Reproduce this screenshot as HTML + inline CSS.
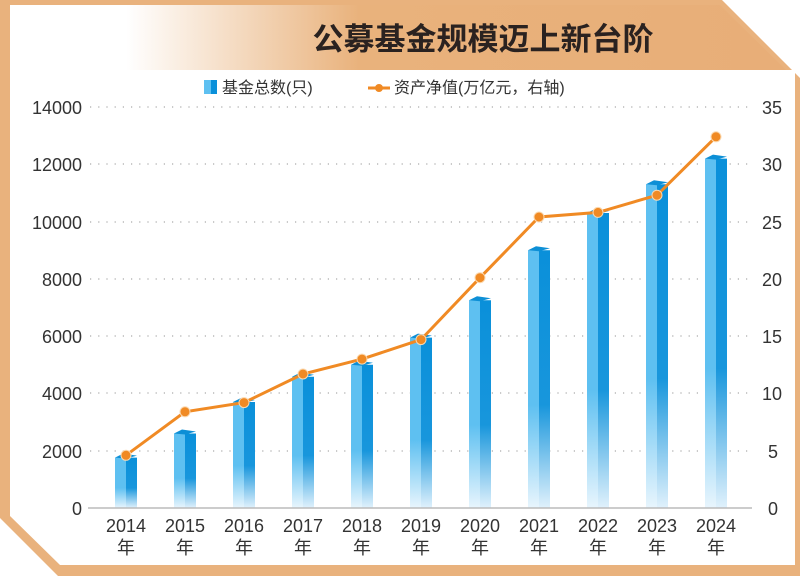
<!DOCTYPE html>
<html><head><meta charset="utf-8"><style>
html,body{margin:0;padding:0;background:#fff}
svg{display:block}
text{font-family:"Liberation Sans","Noto Sans CJK SC",sans-serif}
</style></head><body>
<svg width="800" height="576" viewBox="0 0 800 576" xmlns="http://www.w3.org/2000/svg">
<defs>
<linearGradient id="tg" x1="0" y1="0" x2="1" y2="0">
<stop offset="0" stop-color="#fff"/><stop offset="0.15" stop-color="#fff"/><stop offset="0.45" stop-color="#e9b27c"/><stop offset="1" stop-color="#e8ae78"/>
</linearGradient>
<linearGradient id="gl" x1="0" y1="0" x2="0" y2="1">
<stop offset="0" stop-color="#5ec0f1"/><stop offset="0.6" stop-color="#5ec0f1"/><stop offset="1" stop-color="#e8f5fd"/>
</linearGradient>
<linearGradient id="gd" x1="0" y1="0" x2="0" y2="1">
<stop offset="0" stop-color="#0a90da"/><stop offset="0.6" stop-color="#1896dc"/><stop offset="1" stop-color="#e0f1fc"/>
</linearGradient>
<g id="b"><rect x="-11" y="0" width="11" height="600" fill="url(#gl)"/></g>
</defs>
<polygon points="0,0 722,0 800,78 800,576 0,576" fill="#e9b27d"/>
<polygon points="0,518 0,576 58,576" fill="#fff"/>
<polygon points="10,70 795,70 795,565 60,565 10,516" fill="#fff"/>
<polygon points="10,5 720,5 786,70 10,70" fill="url(#tg)"/>
<text x="483" y="50" font-size="31" font-weight="bold" fill="#2a2220" text-anchor="middle" style="font-family:'Noto Sans CJK SC',sans-serif">公募基金规模迈上新台阶</text>
<rect x="204" y="80" width="7" height="14" fill="#5ec0f1"/><rect x="211" y="80" width="6" height="14" fill="#0a90da"/>
<text x="222" y="93" font-size="16" fill="#333">基金总数(只)</text>
<line x1="368" y1="88" x2="390" y2="88" stroke="#f08a24" stroke-width="3"/><circle cx="379" cy="88" r="4" fill="#f08a24"/>
<text x="394" y="93" font-size="16" fill="#333">资产净值(万亿元，右轴)</text>
<g stroke="#aaa" stroke-width="1.2" stroke-dasharray="1.2 7">
<line x1="90" y1="107" x2="750" y2="107"/><line x1="90" y1="164" x2="750" y2="164"/><line x1="90" y1="222" x2="750" y2="222"/><line x1="90" y1="279" x2="750" y2="279"/><line x1="90" y1="336" x2="750" y2="336"/><line x1="90" y1="393" x2="750" y2="393"/><line x1="90" y1="451" x2="750" y2="451"/>
</g>
<g font-size="18" fill="#333">
<text x="82" y="114" text-anchor="end">14000</text><text x="82" y="171" text-anchor="end">12000</text><text x="82" y="229" text-anchor="end">10000</text><text x="82" y="286" text-anchor="end">8000</text><text x="82" y="343" text-anchor="end">6000</text><text x="82" y="400" text-anchor="end">4000</text><text x="82" y="458" text-anchor="end">2000</text><text x="82" y="515" text-anchor="end">0</text>
<text x="762" y="114">35</text><text x="762" y="171">30</text><text x="762" y="229">25</text><text x="762" y="286">20</text><text x="762" y="343">15</text><text x="762" y="400">10</text><text x="768" y="458">5</text><text x="768" y="515">0</text>
</g>
<g>
<path d="M115,457.6h11v50.4h-11z" fill="url(#gl)"/><path d="M126,457.6h11v50.4h-11z" fill="url(#gd)"/><polygon points="115,457.6 123,453.6 137,455.6 126,458.6" fill="#0d8fd6"/>
<path d="M174,433.5h11v74.5h-11z" fill="url(#gl)"/><path d="M185,433.5h11v74.5h-11z" fill="url(#gd)"/><polygon points="174,433.5 182,429.5 196,431.5 185,434.5" fill="#0d8fd6"/>
<path d="M233,402h11v106h-11z" fill="url(#gl)"/><path d="M244,402h11v106h-11z" fill="url(#gd)"/><polygon points="233,402 241,398 255,400 244,403" fill="#0d8fd6"/>
<path d="M292,376.8h11v131.2h-11z" fill="url(#gl)"/><path d="M303,376.8h11v131.2h-11z" fill="url(#gd)"/><polygon points="292,376.8 300,372.8 314,374.8 303,377.8" fill="#0d8fd6"/>
<path d="M351,364.8h11v143.2h-11z" fill="url(#gl)"/><path d="M362,364.8h11v143.2h-11z" fill="url(#gd)"/><polygon points="351,364.8 359,360.8 373,362.8 362,365.8" fill="#0d8fd6"/>
<path d="M410,337.6h11v170.4h-11z" fill="url(#gl)"/><path d="M421,337.6h11v170.4h-11z" fill="url(#gd)"/><polygon points="410,337.6 418,333.6 432,335.6 421,338.6" fill="#0d8fd6"/>
<path d="M469,300.3h11v207.7h-11z" fill="url(#gl)"/><path d="M480,300.3h11v207.7h-11z" fill="url(#gd)"/><polygon points="469,300.3 477,296.3 491,298.3 480,301.3" fill="#0d8fd6"/>
<path d="M528,250.2h11v257.8h-11z" fill="url(#gl)"/><path d="M539,250.2h11v257.8h-11z" fill="url(#gd)"/><polygon points="528,250.2 536,246.2 550,248.2 539,251.2" fill="#0d8fd6"/>
<path d="M587,213h11v295h-11z" fill="url(#gl)"/><path d="M598,213h11v295h-11z" fill="url(#gd)"/><polygon points="587,213 595,209 609,211 598,214" fill="#0d8fd6"/>
<path d="M646,184.3h11v323.7h-11z" fill="url(#gl)"/><path d="M657,184.3h11v323.7h-11z" fill="url(#gd)"/><polygon points="646,184.3 654,180.3 668,182.3 657,185.3" fill="#0d8fd6"/>
<path d="M705,158.6h11v349.4h-11z" fill="url(#gl)"/><path d="M716,158.6h11v349.4h-11z" fill="url(#gd)"/><polygon points="705,158.6 713,154.6 727,156.6 716,159.6" fill="#0d8fd6"/>
</g>
<line x1="88" y1="508" x2="752" y2="508" stroke="#bbb" stroke-width="1.5"/>
<g font-size="18" fill="#333" text-anchor="middle">
<text x="126" y="532">2014</text><text x="185" y="532">2015</text><text x="244" y="532">2016</text><text x="303" y="532">2017</text><text x="362" y="532">2018</text><text x="421" y="532">2019</text><text x="480" y="532">2020</text><text x="539" y="532">2021</text><text x="598" y="532">2022</text><text x="657" y="532">2023</text><text x="716" y="532">2024</text>
<text x="126" y="554">年</text><text x="185" y="554">年</text><text x="244" y="554">年</text><text x="303" y="554">年</text><text x="362" y="554">年</text><text x="421" y="554">年</text><text x="480" y="554">年</text><text x="539" y="554">年</text><text x="598" y="554">年</text><text x="657" y="554">年</text><text x="716" y="554">年</text>
</g>
<polyline points="126,455.3 185,411.8 244,402.6 303,374 362,359.1 421,339.6 480,277.7 539,217 598,212.4 657,195.2 716,136.8" fill="none" stroke="#f08a24" stroke-width="3"/>
<g fill="#f08a24" stroke="#fbd9b0" stroke-width="1">
<circle cx="126" cy="455.3" r="5"/><circle cx="185" cy="411.8" r="5"/><circle cx="244" cy="402.6" r="5"/><circle cx="303" cy="374" r="5"/><circle cx="362" cy="359.1" r="5"/><circle cx="421" cy="339.6" r="5"/><circle cx="480" cy="277.7" r="5"/><circle cx="539" cy="217" r="5"/><circle cx="598" cy="212.4" r="5"/><circle cx="657" cy="195.2" r="5"/><circle cx="716" cy="136.8" r="5"/>
</g>
</svg>
</body></html>
